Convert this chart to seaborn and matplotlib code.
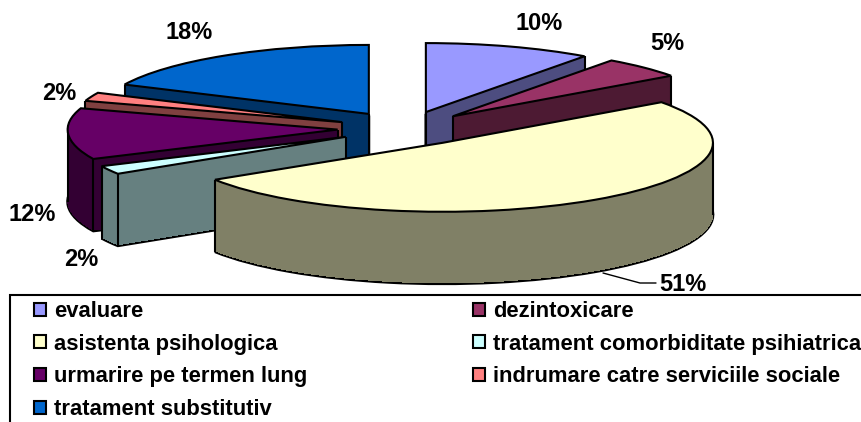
import math
import seaborn as sns
import matplotlib
matplotlib.use("Agg")
import matplotlib.pyplot as plt
from matplotlib.lines import Line2D
from matplotlib.patches import Rectangle

categories = ["evaluare", "dezintoxicare", "asistenta psihologica",
              "tratament comorbiditate psihiatrica", "urmarire pe termen lung",
              "indrumare catre serviciile sociale", "tratament substitutiv"]
values = [10, 5, 51, 2, 12, 2, 18]
pct_labels = ["10%", "5%", "51%", "2%", "12%", "2%", "18%"]
top_colors = ["#9999ff", "#993366", "#ffffcc", "#ccffff", "#660066", "#ff8080", "#0066cc"]

W, H = 862, 422
# pixel layout of the squashed pie
CX, CY = 405, 128.5
RX, RY = 270, 69
DEPTH = 72
label_px = [(539, 23.5), (667, 43.5), (683, 284.5), (81, 259.5), (32, 214.5), (59, 93.5), (189, 32.5)]

sns.set_theme(style="white")
plt.rcParams["font.family"] = ["Liberation Sans", "DejaVu Sans"]

top_palette = sns.color_palette(top_colors)
side_palette = [tuple(c * 0.5 for c in col) for col in top_palette]

fig = plt.figure(figsize=(W / 100, H / 100), dpi=100)
ax = fig.add_axes([0, 0, 1, 1])


def draw_pie(colors, dy=0.0, **props):
    wedges, _ = ax.pie(values, explode=[0.25] * len(values), startangle=90,
                       counterclock=False, colors=colors, center=(0, dy),
                       wedgeprops=props)
    return wedges


top_wedges = draw_pie(top_palette, 0.0, linewidth=1.5, edgecolor="black", zorder=30)

# back slices get painted first, the front ones cover them
order = sorted(range(len(values)), key=lambda i: -top_wedges[i].center[1])
slice_z = {i: 1 + rank for rank, i in enumerate(order)}

# walls are stacked copies of the pie, from the bottom up
depth_units = DEPTH / RY
for w, i in zip(draw_pie(side_palette, -depth_units, linewidth=2.0, edgecolor="black"),
                range(len(values))):
    w.set_zorder(slice_z[i])
for px in range(DEPTH - 1, 0, -1):
    layer = draw_pie(side_palette, -px / RY, linewidth=0, antialiased=False)
    for i, w in enumerate(layer):
        w.set_zorder(slice_z[i])

# vertical edges of the walls that face the viewer
for i, w in enumerate(top_wedges):
    cx, cy = w.center
    c1, s1 = math.cos(math.radians(w.theta1)), math.sin(math.radians(w.theta1))
    c2, s2 = math.cos(math.radians(w.theta2)), math.sin(math.radians(w.theta2))
    xs, ys = [], []
    if c1 > 0 or c2 < 0:
        xs.append(cx)
        ys.append(cy)
    if c1 > 0 or s1 < 0:
        xs.append(cx + w.r * c1)
        ys.append(cy + w.r * s1)
    if c2 < 0 or s2 < 0:
        xs.append(cx + w.r * c2)
        ys.append(cy + w.r * s2)
    for ext in (0, 180, -180, 360):
        if w.theta1 < ext < w.theta2:
            xs.append(cx + w.r * math.cos(math.radians(ext)))
            ys.append(cy)
    for x, y in zip(xs, ys):
        ax.plot([x, x], [y, y - depth_units], color="black", lw=1.5,
                zorder=slice_z[i] + 0.5, solid_capstyle="butt")

ax.set_aspect("auto")
ax.set_xlim(-CX / RX, (W - CX) / RX)
ax.set_ylim((CY - H) / RY, CY / RY)
ax.axis("off")

for txt, (x, y) in zip(pct_labels, label_px):
    fig.text(x / W, 1 - y / H, txt, ha="center", va="center", fontsize=17,
             fontweight="bold", color="black")

# leader of the 51% label
fig.add_artist(Line2D([603 / W, 640 / W, 656 / W],
                      [1 - 273 / H, 1 - 283 / H, 1 - 283 / H],
                      color="black", lw=1.0))

# legend box runs off the picture on the right and at the bottom
fig.add_artist(Rectangle((10 / W, -0.05), 0.99, 1 - 295 / H + 0.05,
                         transform=fig.transFigure, facecolor="white",
                         edgecolor="black", lw=1.5, zorder=4))
leg = fig.legend(top_wedges[0:1] + top_wedges[2:3] + top_wedges[4:5] + top_wedges[6:7]
                 + top_wedges[1:2] + top_wedges[3:4] + top_wedges[5:6],
                 [categories[i] for i in (0, 2, 4, 6, 1, 3, 5)],
                 ncol=2, frameon=False, prop={"weight": "bold", "size": 15.8},
                 labelcolor="black",
                 handlelength=0.55, handleheight=0.55, handletextpad=0.36,
                 columnspacing=7.55, labelspacing=0.53, borderpad=0, borderaxespad=0,
                 loc="upper left", bbox_to_anchor=(34 / W, 1 - 301 / H))
leg.set_zorder(5)

fig.savefig("out.png", dpi=100)
